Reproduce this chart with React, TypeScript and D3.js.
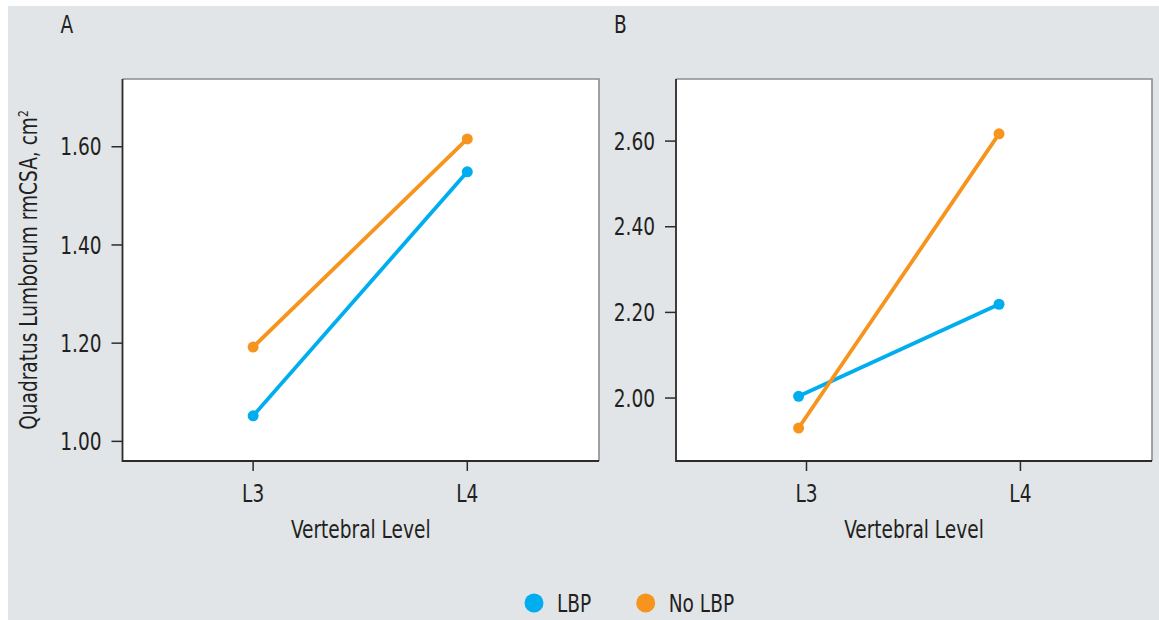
import * as d3 from "d3";
import type { ReactNode } from "react";

// categories and values
const levels = ["L3", "L4"];
const levelTicks = [3, 4];
const seriesNames = ["LBP", "No LBP"];
const seriesColors = ["#00aeef", "#f7941d"];

// panel A
const levelPosA = [3, 4];
const lbpA = [1.052, 1.549];
const noLbpA = [1.192, 1.616];
const yTicksA = [1.0, 1.2, 1.4, 1.6];

// panel B (points sit a little left of the ticks in the original)
const levelPosB = [2.963, 3.9];
const lbpB = [2.004, 2.219];
const noLbpB = [1.93, 2.617];
const yTicksB = [2.0, 2.2, 2.4, 2.6];

const FONT = "'DejaVu Sans Condensed', 'Liberation Sans Narrow', Arial, sans-serif";
const TEXT = "#231f20";
const SQUEEZE = 0.86; // narrow the condensed face a bit more

type TProps = {
  x: number;
  y: number;
  anchor?: "start" | "middle" | "end";
  rotate?: number;
  dy?: string;
  children: ReactNode;
};

// text squeezed horizontally around its anchor point
const T = ({ x, y, anchor = "start", rotate = 0, dy, children }: TProps) => (
  <g transform={`translate(${x},${y}) rotate(${rotate}) scale(${SQUEEZE},1)`}>
    <text textAnchor={anchor} dy={dy} fontSize={24} fontFamily={FONT} fill={TEXT}>
      {children}
    </text>
  </g>
);

type PanelProps = {
  label: string;
  left: number;
  right: number;
  top: number;
  bottom: number;
  yDomain: [number, number];
  yTicks: number[];
  xPos: number[];
  series: number[][];
  showYTitle?: boolean;
};

const Panel = ({ label, left, right, top, bottom, yDomain, yTicks, xPos, series, showYTitle }: PanelProps) => {
  const x = d3.scaleLinear().domain([2.39, 4.615]).range([left, right]);
  const y = d3.scaleLinear().domain(yDomain).range([bottom, top]);
  const line = d3
    .line<number>()
    .x((_, i) => x(xPos[i]))
    .y((d) => y(d));

  return (
    <g>
      <T x={left - 62} y={33}>
        {label}
      </T>
      <rect x={left} y={top} width={right - left} height={bottom - top} fill="#fff" />
      {/* top and right border lighter */}
      <path d={`M${left},${top}H${right}V${bottom}`} fill="none" stroke="#8a8c8e" strokeWidth={1.6} />
      <path d={`M${left},${top}V${bottom}H${right}`} fill="none" stroke="#2b2b2b" strokeWidth={1.8} />

      {yTicks.map((t) => (
        <g key={t}>
          <line x1={left - 11} x2={left} y1={y(t)} y2={y(t)} stroke="#2b2b2b" strokeWidth={1.5} />
          <T x={left - 21} y={y(t)} dy="0.36em" anchor="end">
            {t.toFixed(2)}
          </T>
        </g>
      ))}

      {levelTicks.map((t, i) => (
        <g key={t}>
          <line x1={x(t)} x2={x(t)} y1={bottom} y2={bottom + 10} stroke="#2b2b2b" strokeWidth={1.5} />
          <T x={x(t)} y={502} anchor="middle">
            {levels[i]}
          </T>
        </g>
      ))}

      <T x={(left + right) / 2} y={538} anchor="middle">
        Vertebral Level
      </T>

      {showYTitle && (
        <T x={37} y={(top + bottom) / 2} rotate={-90} anchor="middle">
          Quadratus Lumborum rmCSA, cm
          <tspan dy={-9} fontSize={14}>
            2
          </tspan>
        </T>
      )}

      {series.map((s, si) => (
        <g key={si}>
          <path d={line(s) ?? ""} fill="none" stroke={seriesColors[si]} strokeWidth={3.8} />
          {s.map((v, i) => (
            <circle key={i} cx={x(xPos[i])} cy={y(v)} r={5.5} fill={seriesColors[si]} />
          ))}
        </g>
      ))}
    </g>
  );
};

export default function App() {
  const width = 1159;
  const height = 620;
  const legendX = [534, 645.7];

  return (
    <svg
      width={width}
      height={height}
      style={{ position: "absolute", left: 0, top: 0, display: "block", background: "#fff" }}
    >
      <rect x={8} y={6} width={width - 8} height={height - 6} fill="#e1e5e8" />
      <Panel
        label="A"
        left={122.5}
        right={599}
        top={79}
        bottom={461}
        yDomain={[0.96, 1.738]}
        yTicks={yTicksA}
        xPos={levelPosA}
        series={[lbpA, noLbpA]}
        showYTitle
      />
      <Panel
        label="B"
        left={676}
        right={1152}
        top={79}
        bottom={461}
        yDomain={[1.853, 2.745]}
        yTicks={yTicksB}
        xPos={levelPosB}
        series={[lbpB, noLbpB]}
      />
      {seriesNames.map((name, i) => (
        <g key={name}>
          <circle cx={legendX[i]} cy={603} r={9.5} fill={seriesColors[i]} />
          <T x={legendX[i] + 23} y={612}>
            {name}
          </T>
        </g>
      ))}
    </svg>
  );
}
